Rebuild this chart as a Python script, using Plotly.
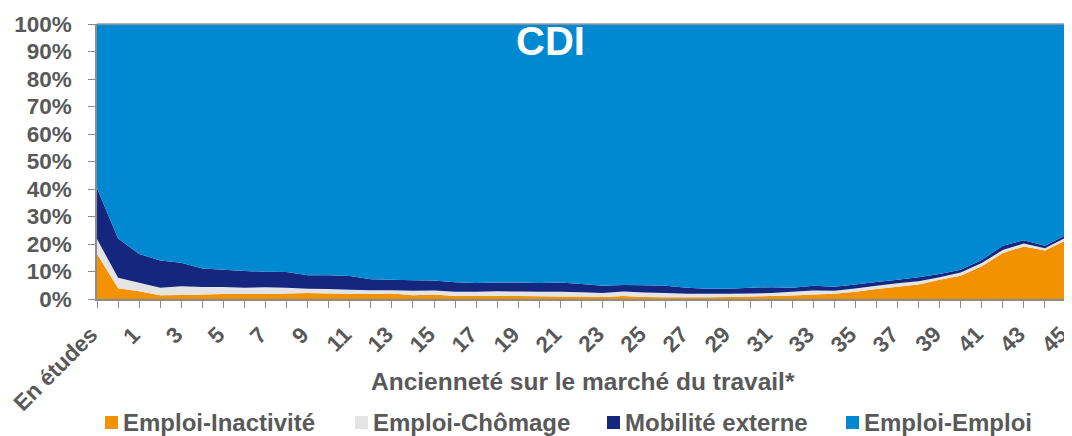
import plotly.graph_objects as go

# categories: "En études" then years 0..45 on the labour market
categories = ["En études"] + [str(i) for i in range(0, 46)]

# shares in %
emploi_inactivite = [16.4, 3.9, 2.8, 1.4, 1.5, 1.6, 1.8, 1.8, 1.8, 2.0, 2.2, 2.0, 1.9, 1.9, 2.0, 1.4,
                     1.6, 1.1, 1.1, 1.1, 1.1, 1.0, 0.9, 0.9, 0.7, 1.1, 0.7, 0.6, 0.6, 0.6, 0.7, 0.9,
                     1.1, 1.3, 1.6, 1.9, 2.6, 3.6, 4.5, 5.3, 7.0, 8.5, 11.9, 16.7, 19.1, 17.6, 21.4]
emploi_chomage = [5.4, 3.8, 3.1, 2.7, 3.1, 2.8, 2.6, 2.3, 2.5, 2.1, 1.5, 1.6, 1.5, 1.3, 1.2, 1.6,
                  1.5, 1.5, 1.5, 1.7, 1.6, 1.6, 1.7, 1.6, 1.5, 1.6, 1.7, 1.6, 1.3, 1.3, 1.2, 1.1,
                  1.1, 1.3, 1.5, 1.1, 1.2, 1.2, 1.2, 1.2, 0.9, 1.1, 1.2, 1.1, 1.1, 0.9, 1.0]
mobilite_externe = [18.5, 14.3, 10.5, 9.9, 8.6, 6.7, 6.2, 6.1, 5.6, 5.7, 4.9, 5.0, 5.0, 4.0, 3.8, 3.8,
                    3.6, 3.5, 3.2, 3.2, 3.3, 3.2, 3.4, 3.0, 2.6, 2.4, 2.6, 2.6, 2.2, 1.8, 1.8, 2.1,
                    2.1, 1.5, 1.7, 1.5, 1.5, 1.4, 1.3, 1.4, 1.2, 1.0, 1.1, 1.6, 1.2, 0.9, 0.9]
emploi_emploi = [59.7, 78.0, 83.6, 86.0, 86.8, 88.9, 89.4, 89.8, 90.1, 90.2, 91.4, 91.4, 91.6, 92.8, 93.0, 93.2,
                 93.3, 93.9, 94.2, 94.0, 94.0, 94.2, 94.0, 94.5, 95.2, 94.9, 95.0, 95.2, 95.9, 96.3, 96.3, 95.9,
                 95.7, 95.9, 95.2, 95.5, 94.7, 93.8, 93.0, 92.1, 90.9, 89.4, 85.8, 80.6, 78.6, 80.6, 76.7]

series = [
    ("Emploi-Inactivité", emploi_inactivite, "#F39200"),
    ("Emploi-Chômage", emploi_chomage, "#E4E4E4"),
    ("Mobilité externe", mobilite_externe, "#14267E"),
    ("Emploi-Emploi", emploi_emploi, "#0088D0"),
]

FONT = "Liberation Sans, Arial, sans-serif"
GREY = "#595959"
OFF = 8  # page margin around the figure
W, H = 1072 - OFF, 436 - OFF
L, R, T, B = 97 - OFF, 6, 24 - OFF, 137
PW, PH = W - L - R, H - T - B

def px(xp):  # page pixel x -> paper
    return (xp - OFF - L) / PW

def py(yp):  # page pixel y -> paper
    return (H - B - (yp - OFF)) / PH

x = list(range(len(categories)))

fig = go.Figure()
for name, vals, col in series:
    fig.add_trace(go.Scatter(
        x=x, y=vals, name=name, mode="none",
        stackgroup="one", groupnorm="percent",
        fillcolor=col, line=dict(width=0),
        showlegend=False, hoverinfo="x+y+name",
    ))

# rotated category labels (every second one), end of text sits at the tick
for i, c in enumerate(categories):
    if i % 2:
        continue
    fig.add_annotation(
        text=f"<b>{c}</b>", x=i, xref="x", y=py(319), yref="paper",
        xanchor="right", yanchor="top", xshift=9, textangle=-45,
        showarrow=False, font=dict(family=FONT, size=22.5, color=GREY),
    )

# title inside the plot
fig.add_annotation(
    text="<b>CDI</b>", x=px(550), y=py(41), xref="paper", yref="paper",
    xanchor="center", yanchor="middle",
    showarrow=False, font=dict(family=FONT, size=40, color="white"),
)
# x axis title
fig.add_annotation(
    text="<b>Ancienneté sur le marché du travail*</b>", x=px(583), y=py(381),
    xref="paper", yref="paper", xanchor="center", yanchor="middle", showarrow=False,
    font=dict(family=FONT, size=24.5, color=GREY),
)
# legend: square + label
legend_x = [105, 355, 607, 846]
for (name, vals, col), lx in zip(series, legend_x):
    fig.add_shape(type="rect", xref="paper", yref="paper",
                  x0=px(lx), x1=px(lx + 13), y0=py(429), y1=py(416),
                  fillcolor=col, line=dict(width=0))
    fig.add_annotation(
        text=f"<b>{name}</b>", x=px(lx + 16), y=py(422), xref="paper", yref="paper",
        xanchor="left", yanchor="middle", showarrow=False,
        font=dict(family=FONT, size=24, color=GREY),
    )

fig.add_shape(type="line", xref="paper", yref="paper", x0=0, x1=1, y0=1, y1=1,
              line=dict(color="#9A9A9A", width=1.5))

fig.update_layout(
    width=W, height=H,
    margin=dict(l=L, r=R, t=T, b=B, autoexpand=False),
    plot_bgcolor="white", paper_bgcolor="white",
    font=dict(family=FONT, color=GREY),
    showlegend=False,
)

fig.update_xaxes(
    range=[-0.001, len(categories) - 1 + 0.001], automargin=False,
    tickmode="array", tickvals=x, showticklabels=False,
    ticks="outside", ticklen=7, tickcolor="#8C8C8C",
    showline=True, linecolor="#8C8C8C", linewidth=1.5,
    showgrid=False, zeroline=False,
)
fig.update_yaxes(
    range=[0, 100], dtick=10, ticksuffix="%", automargin=False,
    tickfont=dict(size=22.5, weight="bold", color=GREY),
    ticks="outside", ticklen=7, tickcolor="#8C8C8C", ticklabelstandoff=12,
    showline=True, linecolor="#8C8C8C", linewidth=1.5,
    showgrid=False, zeroline=False,
)

fig.write_html("out.html")
